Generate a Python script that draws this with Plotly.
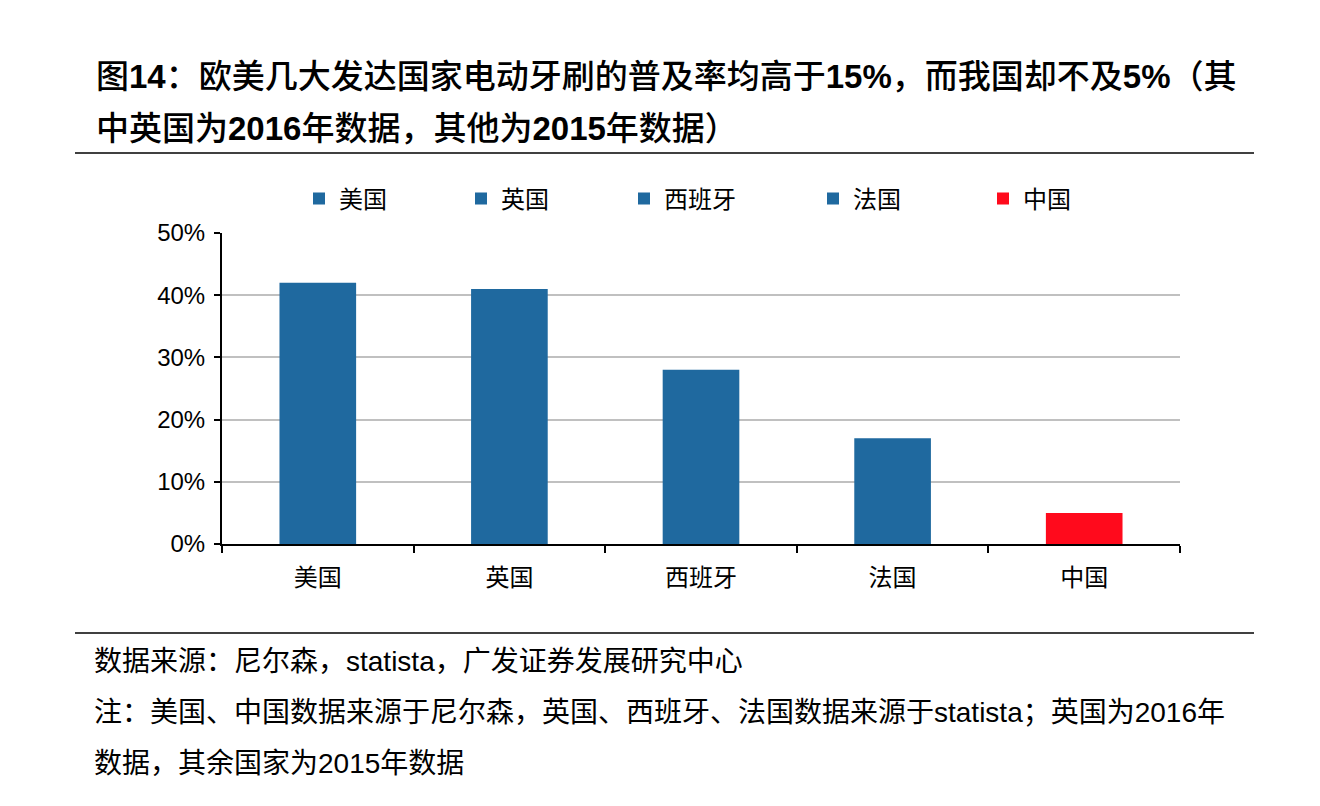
import plotly.graph_objects as go

# Data
countries = ["美国", "英国", "西班牙", "法国", "中国"]
penetration = [0.42, 0.41, 0.28, 0.17, 0.05]
bar_colors = ["#1F699F", "#1F699F", "#1F699F", "#1F699F", "#FF0A1C"]
y_ticks = [0, 0.1, 0.2, 0.3, 0.4, 0.5]
y_tick_labels = ["0%", "10%", "20%", "30%", "40%", "50%"]

title_lines = [
    "图<b>14</b>：欧美几大发达国家电动牙刷的普及率均高于<b>15%</b>，而我国却不及<b>5%</b>（其",
    "中英国为<b>2016</b>年数据，其他为<b>2015</b>年数据）",
]
notes = [
    "数据来源：尼尔森，statista，广发证券发展研究中心",
    "注：美国、中国数据来源于尼尔森，英国、西班牙、法国数据来源于statista；英国为2016年",
    "数据，其余国家为2015年数据",
]

W, H = 1320, 806
PAGE_OFFSET = 8  # the html body margin shifts the figure
L, R, T, B = 222, 1180, 233, 544  # plot area in screen pixels
PW, PH = R - L, B - T
FONT = "Liberation Sans, Noto Sans CJK SC"
TICK_FONT = "Liberation Sans Narrow, Liberation Sans"


def px_x(x):
    return (x - L) / PW


def px_y(y):
    return (B - y) / PH


fig = go.Figure()

legend_left = [318, 480, 643, 832, 1002]
legend_names = ["legend", "legend2", "legend3", "legend4", "legend5"]

for i, (name, val, col) in enumerate(zip(countries, penetration, bar_colors)):
    fig.add_trace(
        go.Bar(
            x=[name],
            y=[val],
            name=name,
            marker=dict(color=col, line=dict(width=0)),
            width=0.4,
            legend=legend_names[i],
            hovertemplate="%{x}: %{y:.0%}<extra></extra>",
        )
    )

# One legend per entry so the uneven spacing of the original can be kept
legend_layout = {}
for lg, x0 in zip(legend_names, legend_left):
    legend_layout[lg] = dict(
        x=px_x(x0 - 19),
        y=px_y(199),
        xanchor="left",
        yanchor="middle",
        orientation="h",
        font=dict(family=FONT, size=24, color="#000000"),
        bgcolor="rgba(0,0,0,0)",
        itemclick=False,
        itemdoubleclick=False,
    )

ml = L - PAGE_OFFSET
mt = T - PAGE_OFFSET
fig.update_layout(
    width=W,
    height=H,
    margin=dict(l=ml, r=W - PW - ml, t=mt, b=H - PH - mt, pad=0),
    paper_bgcolor="white",
    plot_bgcolor="white",
    barmode="overlay",
    showlegend=True,
    font=dict(family=FONT, color="#000000"),
    **legend_layout,
)

fig.update_xaxes(
    categoryorder="array",
    categoryarray=countries,
    showline=True,
    linecolor="#000000",
    linewidth=2,
    ticks="outside",
    tickson="boundaries",
    ticklen=7,
    tickwidth=2,
    tickcolor="#000000",
    tickfont=dict(family=FONT, size=24, color="#000000"),
    ticklabelstandoff=11,
    showgrid=False,
    fixedrange=True,
)

fig.update_yaxes(
    range=[0, 0.5],
    tickvals=y_ticks,
    ticktext=y_tick_labels,
    showline=True,
    linecolor="#000000",
    linewidth=2,
    ticks="outside",
    ticklen=6,
    tickwidth=2,
    tickcolor="#000000",
    tickfont=dict(family=TICK_FONT, size=24, color="#000000"),
    ticklabelstandoff=4,
    showgrid=True,
    gridcolor="#C0C0C0",
    gridwidth=1.5,
    zeroline=False,
    fixedrange=True,
)

# Title lines
for text, yc in zip(title_lines, [77, 128]):
    fig.add_annotation(
        text=text,
        xref="paper",
        yref="paper",
        x=px_x(94),
        y=px_y(yc),
        xanchor="left",
        yanchor="middle",
        showarrow=False,
        font=dict(family=FONT, size=33, color="#000000", weight=500),
    )

# Footnote lines
for text, yc in zip(notes, [661, 712, 763]):
    fig.add_annotation(
        text=text,
        xref="paper",
        yref="paper",
        x=px_x(92),
        y=px_y(yc),
        xanchor="left",
        yanchor="middle",
        showarrow=False,
        font=dict(family=FONT, size=28, color="#000000"),
    )

# Separator rules above and below the chart
for yc in [153, 633]:
    fig.add_shape(
        type="line",
        xref="paper",
        yref="paper",
        x0=px_x(75),
        x1=px_x(1254),
        y0=px_y(yc),
        y1=px_y(yc),
        line=dict(color="#000000", width=1.5),
    )

fig.write_html("out.html")
